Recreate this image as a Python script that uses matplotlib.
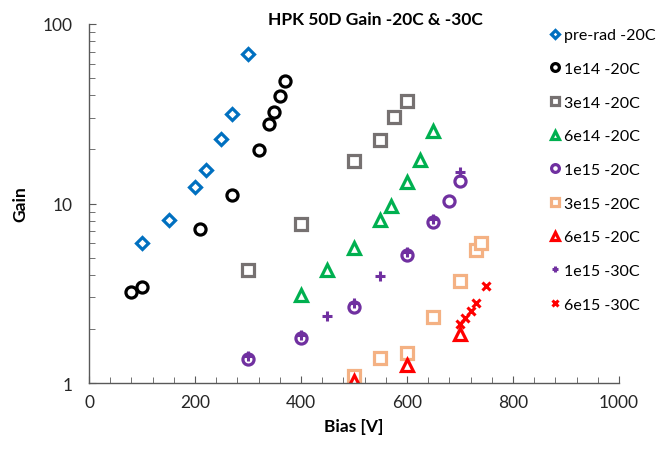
import matplotlib
matplotlib.use("Agg")
import matplotlib.pyplot as plt
from matplotlib.ticker import MultipleLocator, LogLocator, FixedLocator, NullFormatter

plt.rcParams['font.family'] = ['Lato', 'DejaVu Sans']

# Datos
preRadBias = [100, 150, 200, 220, 250, 270, 300]
preRadGain = [6.0, 8.1, 12.4, 15.4, 23.0, 31.7, 68.4]

e14Bias = [80, 100, 210, 270, 320, 340, 350, 360, 370]
e14Gain = [3.2, 3.41, 7.2, 11.1, 19.9, 27.7, 32.3, 39.7, 48.3]

e3e14Bias = [300, 400, 500, 550, 575, 600]
e3e14Gain = [4.28, 7.69, 17.3, 22.7, 30.2, 37.3]

e6e14Bias = [400, 450, 500, 550, 570, 600, 625, 650]
e6e14Gain = [3.09, 4.26, 5.63, 8.13, 9.72, 13.1, 17.5, 25.2]

e15Bias = [300, 400, 500, 600, 650, 680, 700]
e15Gain = [1.36, 1.78, 2.64, 5.17, 7.86, 10.3, 13.4]

e3e15Bias = [500, 550, 600, 650, 700, 730, 740]
e3e15Gain = [1.10, 1.38, 1.47, 2.32, 3.71, 5.51, 6.0]

e6e15Bias = [500, 600, 700]
e6e15Gain = [1.03, 1.26, 1.87]

e15_30Bias = [300, 400, 450, 500, 550, 600, 650, 700]
e15_30Gain = [1.41, 1.85, 2.35, 2.78, 3.96, 5.4, 8.15, 14.9]

e6e15_30Bias = [700, 710, 720, 730, 750]
e6e15_30Gain = [2.13, 2.30, 2.51, 2.78, 3.45]

fig = plt.figure(figsize=(6.57, 4.52), dpi=100)
ax = fig.add_axes([0.1355, 0.1504, 0.8065, 0.7943])

ew = 2.3
ax.plot(preRadBias, preRadGain, 'D', ms=6.5, mfc='white', mec='#0070C0', mew=ew, ls='none', label='pre-rad -20C')
ax.plot(e14Bias, e14Gain, 'o', ms=8, mfc='white', mec='black', mew=ew, ls='none', label='1e14 -20C')
ax.plot(e3e14Bias, e3e14Gain, 's', ms=8, mfc='white', mec='#767171', mew=ew, ls='none', label='3e14 -20C')
ax.plot(e6e14Bias, e6e14Gain, '^', ms=9, mfc='white', mec='#00B050', mew=ew, ls='none', label='6e14 -20C')
ax.plot(e15Bias, e15Gain, 'o', ms=8, mfc='white', mec='#7030A0', mew=ew, ls='none', label='1e15 -20C')
ax.plot(e3e15Bias, e3e15Gain, 's', ms=8, mfc='white', mec='#F4B183', mew=ew, ls='none', label='3e15 -20C')
ax.plot(e6e15Bias, e6e15Gain, '^', ms=9, mfc='white', mec='#FF0000', mew=ew, ls='none', label='6e15 -20C')
ax.plot(e15_30Bias, e15_30Gain, '+', ms=7, mec='#7030A0', mew=2.2, ls='none', label='1e15 -30C')
ax.plot(e6e15_30Bias, e6e15_30Gain, 'x', ms=6, mec='#FF0000', mew=2.2, ls='none', label='6e15 -30C')

ax.set_yscale('log')
ax.set_xlim(0, 1000)
ax.set_ylim(1, 100)
ax.xaxis.set_major_locator(MultipleLocator(200))
ax.xaxis.set_minor_locator(MultipleLocator(40))
ax.yaxis.set_major_locator(FixedLocator([1, 10, 100]))
ax.set_yticklabels(['1', '10', '100'])
ax.yaxis.set_minor_locator(LogLocator(base=10, subs=range(2, 10)))
ax.yaxis.set_minor_formatter(NullFormatter())

for s in ['top', 'right']:
    ax.spines[s].set_visible(False)
for s in ['left', 'bottom']:
    ax.spines[s].set_color('#595959')
    ax.spines[s].set_linewidth(1.0)
ax.tick_params(which='both', direction='in', color='#595959', labelsize=12.5, labelcolor='#262626')
ax.tick_params(which='major', length=5)
ax.tick_params(which='minor', length=4)
ax.tick_params(axis='x', pad=8)
ax.tick_params(axis='y', pad=12)

ax.set_xlabel('Bias [V]', fontsize=12.5, fontweight='bold', labelpad=6)
ax.set_ylabel('Gain', fontsize=12.5, fontweight='bold', labelpad=10)

fig.text(375 / 657, 1 - 20 / 452, 'HPK 50D Gain -20C & -30C', ha='center', va='center',
         fontsize=12.5, fontweight='bold')

leg = fig.legend(loc='upper left', bbox_to_anchor=(550 / 657, 1 - 29 / 452), frameon=False,
                 fontsize=11.5, handlelength=0.6, handletextpad=0.25, labelspacing=1.22,
                 borderaxespad=0, borderpad=0, markerscale=0.7)

plt.savefig('out.png', dpi=100)
